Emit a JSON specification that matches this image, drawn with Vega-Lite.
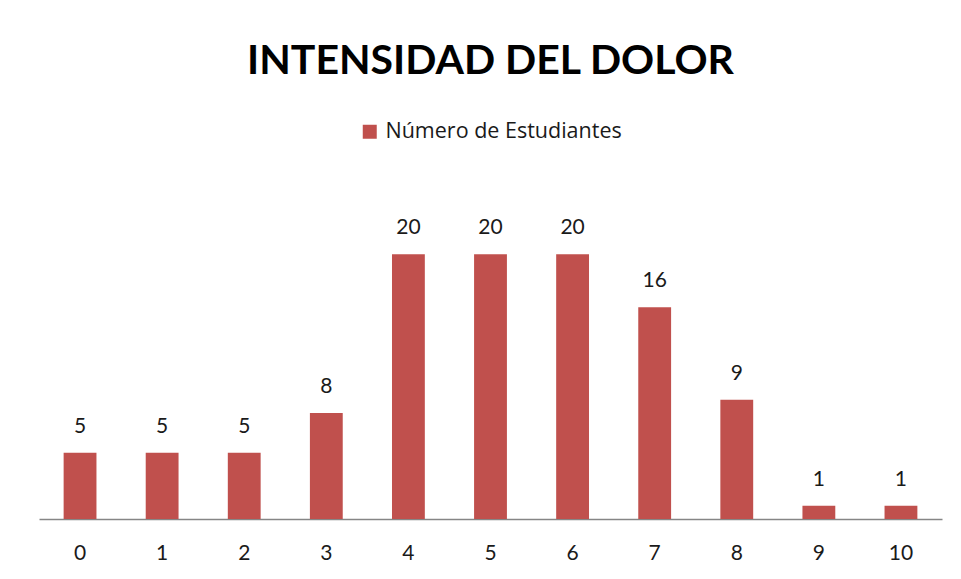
{
  "$schema": "https://vega.github.io/schema/vega-lite/v6.json",
  "autosize": {"type": "none"},
  "width": 903,
  "height": 331,
  "padding": {"left": 39, "top": 188, "right": 19, "bottom": 60},
  "background": "white",
  "title": {
    "text": "INTENSIDAD DEL DOLOR",
    "font": "Lato",
    "fontSize": 41,
    "fontWeight": "bold",
    "color": "#000000",
    "anchor": "middle",
    "offset": 38
  },
  "data": {
    "values": [
      {"intensidad": "0", "estudiantes": 5},
      {"intensidad": "1", "estudiantes": 5},
      {"intensidad": "2", "estudiantes": 5},
      {"intensidad": "3", "estudiantes": 8},
      {"intensidad": "4", "estudiantes": 20},
      {"intensidad": "5", "estudiantes": 20},
      {"intensidad": "6", "estudiantes": 20},
      {"intensidad": "7", "estudiantes": 16},
      {"intensidad": "8", "estudiantes": 9},
      {"intensidad": "9", "estudiantes": 1},
      {"intensidad": "10", "estudiantes": 1}
    ]
  },
  "encoding": {
    "x": {
      "field": "intensidad",
      "type": "nominal",
      "sort": null,
      "scale": {"paddingInner": 0.6, "paddingOuter": 0.3},
      "axis": {
        "title": null,
        "labelAngle": 0,
        "labelFont": "Lato",
        "labelFontSize": 21,
        "labelColor": "#1a1a1a",
        "labelPadding": 23,
        "ticks": false,
        "domainColor": "#868686",
        "domainWidth": 1.5,
        "grid": false
      }
    },
    "y": {
      "field": "estudiantes",
      "type": "quantitative",
      "scale": {"domain": [0, 25]},
      "axis": null
    }
  },
  "layer": [
    {
      "mark": {"type": "bar", "color": "#C0504D"},
      "encoding": {
        "color": {
          "datum": "Número de Estudiantes",
          "scale": {"range": ["#C0504D"]},
          "legend": {
            "title": null,
            "orient": "top",
            "symbolType": "square",
            "symbolSize": 196,
            "symbolStrokeWidth": 0,
            "labelFont": "Open Sans",
            "labelFontSize": 21.5,
            "labelLimit": 500,
            "labelColor": "#1a1a1a",
            "labelOffset": 5,
            "offset": 45
          }
        }
      }
    },
    {
      "mark": {"type": "text", "baseline": "alphabetic", "dy": -20, "font": "Lato", "fontSize": 21, "color": "#1a1a1a"},
      "encoding": {"text": {"field": "estudiantes", "type": "quantitative"}}
    }
  ],
  "config": {
    "view": {"stroke": null},
    "legend": {"layout": {"top": {"anchor": "middle"}}}
  }
}
